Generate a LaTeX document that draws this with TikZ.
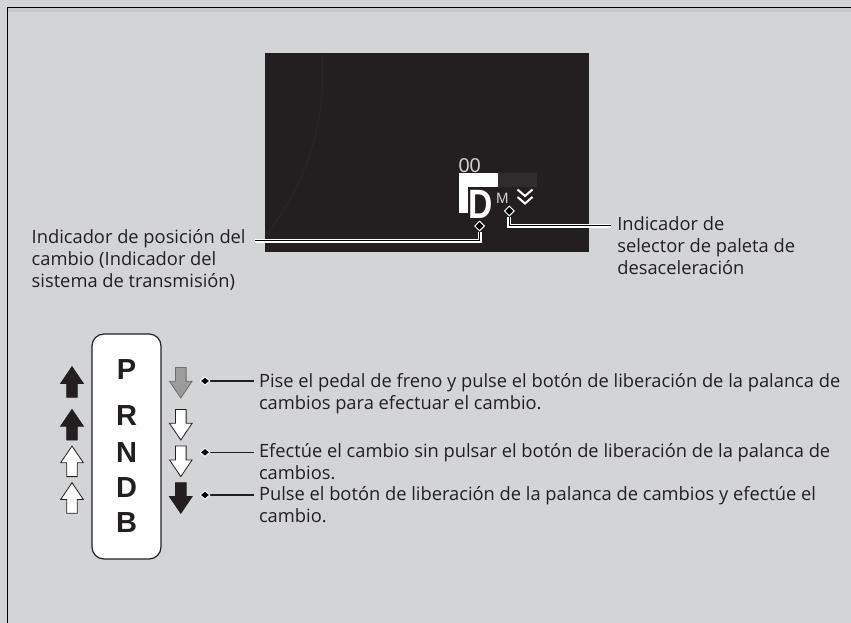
\documentclass[tikz,border=0pt]{standalone}
\usepackage{fontspec}
\setmainfont{Open Sans}
\newfontfamily\lib{Liberation Sans}
\usetikzlibrary{shapes.geometric}
\definecolor{bgc}{HTML}{D3D4D6}
\definecolor{topc}{HTML}{C8C9CB}
\definecolor{ink}{HTML}{231F20}
\definecolor{scr}{HTML}{231F20}
\definecolor{scrbar}{HTML}{302C2D}
\definecolor{scrarc}{HTML}{2B2728}
\definecolor{arrgray}{HTML}{9B9B9B}
\definecolor{arrgrayline}{HTML}{6E6E6E}
\definecolor{dim}{HTML}{CFCFCF}
\pgfdeclarelayer{back}
\pgfdeclarelayer{lines}
\pgfsetlayers{back,lines,main}
\tikzset{
  lbl/.style={anchor=base west, inner sep=0pt, outer sep=0pt, text=ink, font=\fontsize{18.3}{22}\selectfont},
  sel/.style={anchor=base, inner sep=0pt, text=ink, font=\lib\bfseries\fontsize{29}{29}\selectfont},
  dia/.style={shape=diamond, aspect=1, inner sep=0pt, minimum width=10pt, minimum height=10pt, fill=black, draw=white, line width=1pt},
  diasm/.style={shape=diamond, inner sep=0pt, minimum width=10pt, minimum height=8.5pt, fill=black, draw=white, line width=0.9pt},
  dbl/.style={draw=white, double=black, double distance=1.4pt, line width=1.3pt, line join=miter},
  lead/.style={draw=ink, line width=1.3pt},
  arrline/.style={line width=0.8pt, line join=miter},
  uparr/.pic={\path[pic actions] (0,-15.3) -- (11.3,1.4) -- (5.3,1.4) -- (5.3,15.3) -- (-5.3,15.3) -- (-5.3,1.4) -- (-11.3,1.4) -- cycle;},
  dnarr/.pic={\path[pic actions] (0,15.3) -- (11.3,-1.4) -- (5.3,-1.4) -- (5.3,-15.3) -- (-5.3,-15.3) -- (-5.3,-1.4) -- (-11.3,-1.4) -- cycle;},
}
\newcommand{\mlines}[1]{\begin{tabular}[t]{@{}l@{}}#1\end{tabular}}
\begin{document}
\begin{tikzpicture}[x=1pt,y=-1pt]
\useasboundingbox (0,0) rectangle (851,623);
\begin{pgfonlayer}{back}
  \fill[bgc] (0,0) rectangle (851,623);
  \fill[topc] (7.5,7.5) rectangle (851,11.7);
  \draw[black, line width=1pt] (7.5,623) -- (7.5,7.5) -- (851,7.5);
  % screen
  \fill[scr] (265,53) rectangle (589,252);
  \draw[scrarc, line width=0.8pt] (322,53) .. controls (327,130) and (302,190) .. (265,236);
  \node[anchor=base west, inner sep=0pt, text=dim, font=\lib\fontsize{20}{20}\selectfont] (oo) at (458.3,172.8) {00};
  \fill[white] (459,173) rectangle (498,187);
  \fill[scrbar] (498,173) rectangle (537,187);
  \fill[white] (459,187) rectangle (467.5,213);
  \node[anchor=base west, inner sep=0pt, text=white, font=\lib\bfseries\fontsize{41}{41}\selectfont] (dd) at (468.4,218.3) {\scalebox{0.82}[1]{D}};
  \node[anchor=base west, inner sep=0pt, text=dim, font=\lib\fontsize{15}{15}\selectfont] (mm) at (495.9,203.5) {M};
  \draw[white, line width=2pt] (517.5,189.5) -- (525,196) -- (532.5,189.5);
  \draw[white, line width=2pt] (517.5,197) -- (525,203.5) -- (532.5,197);
\end{pgfonlayer}

% screen leaders
\node[dia] (dl) at (479.5,226) {};
\node[dia] (dr) at (509.3,211) {};
\coordinate (cl) at (255,240.7);
\coordinate (cr) at (610.7,225.7);
\begin{pgfonlayer}{lines}
  \draw[dbl] (cl) -| (dl.south);
  \draw[dbl] (dr.south) |- (cr);
\end{pgfonlayer}
\node[lbl] (tl) at (31.7,243.3) {\mlines{Indicador de posición del\\cambio (Indicador del\\sistema de transmisión)}};
\node[lbl] (tr) at (617.3,230.7) {\mlines{Indicador de\\selector de paleta de\\desaceleración}};

% selector box
\node[draw=ink, fill=white, line width=1.2pt, rounded corners=12pt, minimum width=69pt, minimum height=225pt, inner sep=0pt] (box) at (126.5,446.5) {};
\node[sel] (sp) at (126.5,379) {P};
\node[sel] (sr) at (126.5,425.5) {R};
\node[sel] (sn) at (126.5,462.5) {N};
\node[sel] (sd) at (126.5,497) {D};
\node[sel] (sb) at (126.5,532.5) {B};

% left arrows
\pic[draw=ink, fill=ink, arrline] at (72,382) {uparr};
\pic[draw=ink, fill=ink, arrline] at (72,424.7) {uparr};
\pic[draw=ink, fill=white, arrline] at (72,461.3) {uparr};
\pic[draw=ink, fill=white, arrline] at (72,498) {uparr};
% right arrows
\pic[draw=arrgrayline, fill=arrgray, arrline] at (180.8,382.7) {dnarr};
\pic[draw=ink, fill=white, arrline] at (180.8,424.7) {dnarr};
\pic[draw=ink, fill=white, arrline] at (180.8,461.3) {dnarr};
\pic[draw=ink, fill=ink, arrline] at (180.8,498) {dnarr};

% bottom leaders
\node[diasm] (db1) at (205,381) {};
\node[diasm] (db2) at (205,452.3) {};
\node[diasm] (db3) at (205,495) {};
\coordinate (e1) at (254,381);
\coordinate (e2) at (254,452.3);
\coordinate (e3) at (254,495);
\begin{pgfonlayer}{lines}
  \draw[lead] (db1.center) -- (e1);
  \draw[lead] (db2.center) -- (e2);
  \draw[lead] (db3.center) -- (e3);
\end{pgfonlayer}
\node[lbl] (b1) at (259,387.3) {\mlines{Pise el pedal de freno y pulse el botón de liberación de la palanca de\\cambios para efectuar el cambio.}};
\node[lbl] (b2) at (259,457.3) {\mlines{Efectúe el cambio sin pulsar el botón de liberación de la palanca de\\cambios.}};
\node[lbl] (b3) at (259,500) {\mlines{Pulse el botón de liberación de la palanca de cambios y efectúe el\\cambio.}};
\end{tikzpicture}
\end{document}
